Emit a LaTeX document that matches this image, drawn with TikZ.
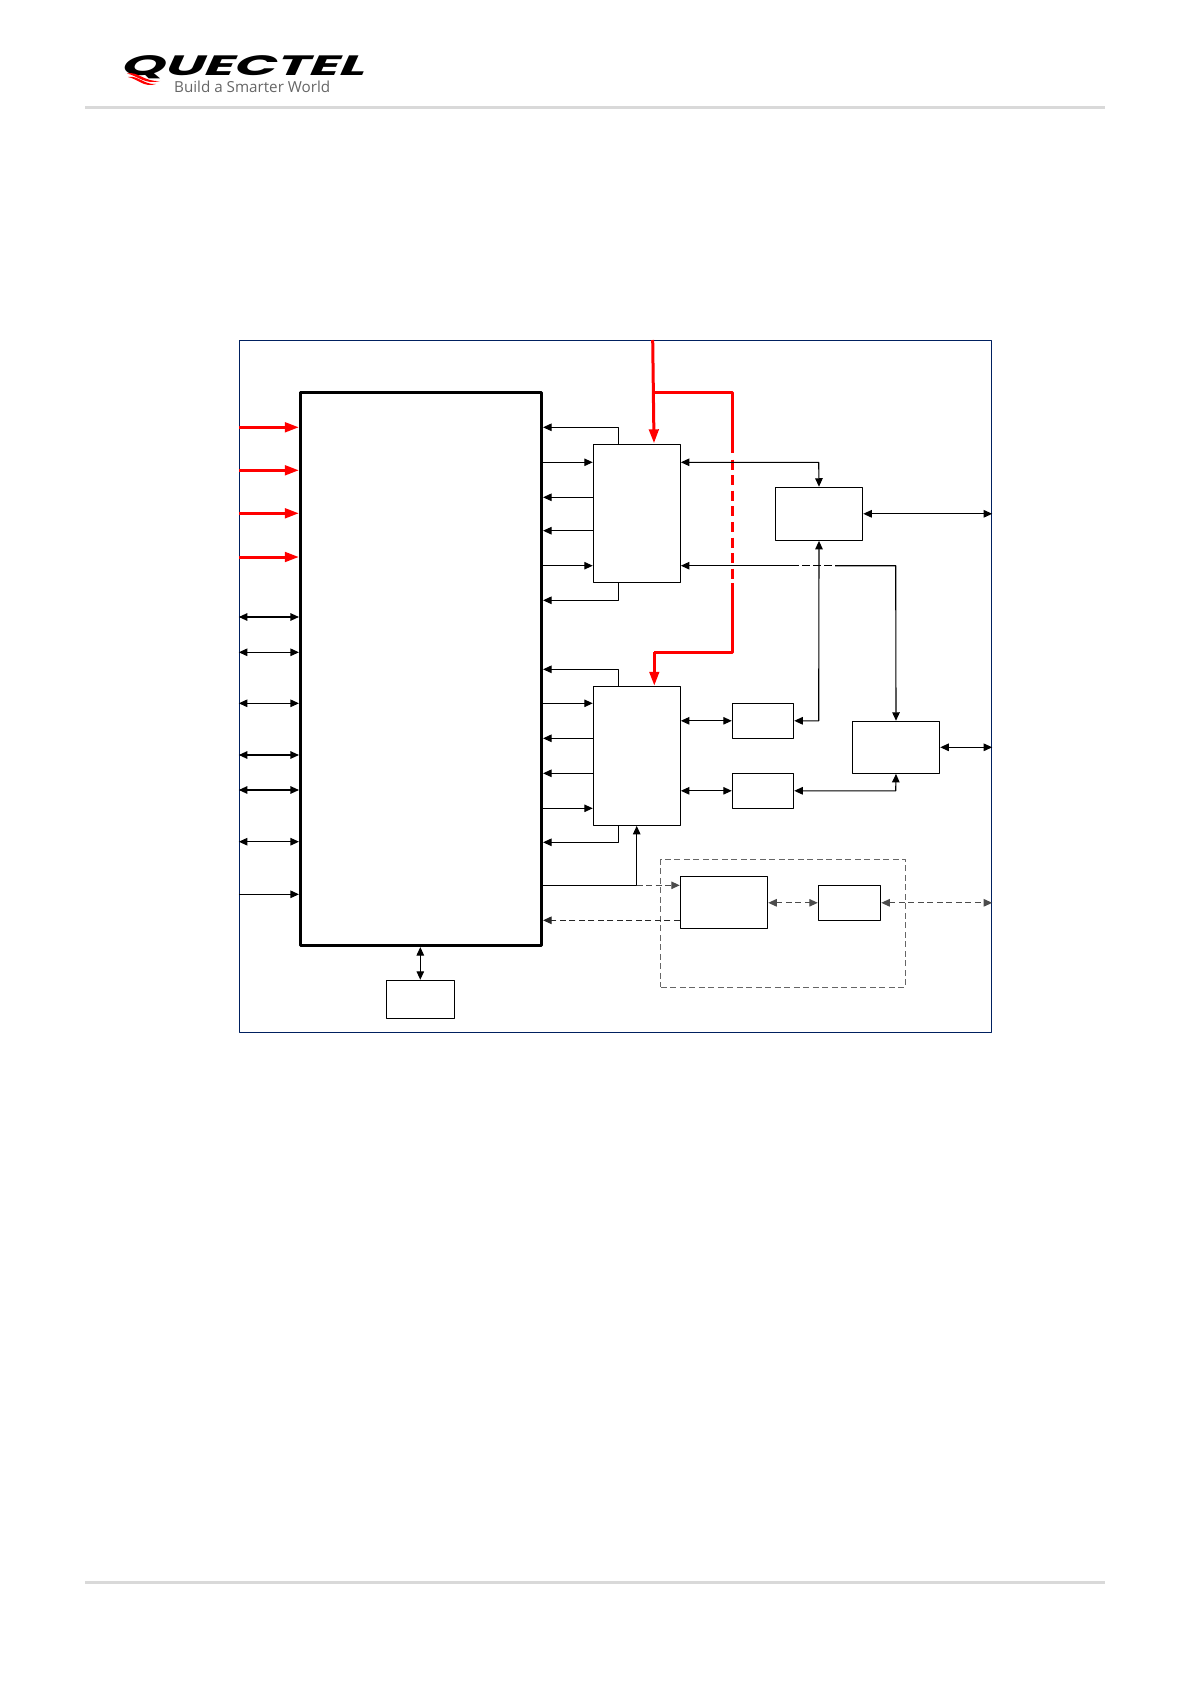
\documentclass[tikz,border=0pt]{standalone}
\usepackage{fontspec}
\usetikzlibrary{arrows.meta}
\newfontfamily\logofont[FakeSlant=.45,FakeStretch=1.98]{Poppins}
\newfontfamily\tagfont{Open Sans}
\definecolor{framenavy}{HTML}{002060}
\definecolor{rulegray}{HTML}{D9D9D9}
\tikzset{
  blk/.style={draw, line width=1.1pt, inner sep=0pt},
  link/.style={line width=1.1pt},
  one/.style={link, -{Stealth[length=8.5pt,width=7.5pt,inset=0pt]}},
  both/.style={link, {Stealth[length=8.5pt,width=7.5pt,inset=0pt]}-{Stealth[length=8.5pt,width=7.5pt,inset=0pt]}},
  dashlink/.style={dash pattern=on 6pt off 3.5pt},
  power/.style={red, line width=3pt, line join=round},
  poweratip/.style={power, -{Stealth[length=14pt,width=9.5pt,inset=0pt]}},
}
\begin{document}
\begin{tikzpicture}[x=1pt, y=-1pt, line join = round]
\useasboundingbox (0,0) rectangle (1192,1685);
%Header and footer
\draw[rulegray, line width=3pt] (85,107.3)--(1105,107.3);
\draw[rulegray, line width=3pt] (85,1582.3)--(1105,1582.3);
\node[anchor=base west, inner sep=0pt] (logo) at (119,75.5) {\logofont\bfseries\fontsize{28}{28}\selectfont QUECTEL};
\node[anchor=base west, inner sep=0pt, text=black!60] (slogan) at (174,93) {\tagfont\fontsize{15.2}{15.2}\selectfont Build a Smarter World};
\fill[red] (127,73.5) .. controls (138,71) and (144,82) .. (160,81) .. controls (145,85) and (138,76) .. (127,73.5);
\fill[red] (128,77) .. controls (138,75) and (144,85) .. (156,84) .. controls (144,88) and (138,79) .. (128,77);
%Boxes
\node[draw=framenavy, line width=1pt, inner sep=0pt, minimum width=752.4pt, minimum height=692pt] (frame) at (615.5,686.3) {};
\node[draw, line width=2.7pt, inner sep=0pt, minimum width=241.4pt, minimum height=553.4pt] (main) at (421,669) {};
\node[blk, minimum width=87pt, minimum height=138pt] (boxA) at (636.8,513.3) {};
\node[blk, minimum width=87pt, minimum height=139pt] (boxB) at (636.8,755.8) {};
\node[blk, minimum width=87.4pt, minimum height=53pt] (boxC) at (819,513.8) {};
\node[blk, minimum width=61.4pt, minimum height=35pt] (boxD) at (763,720.8) {};
\node[blk, minimum width=61.4pt, minimum height=35pt] (boxE) at (763,790.8) {};
\node[blk, minimum width=87.4pt, minimum height=52pt] (boxF) at (896,747.3) {};
\node[blk, minimum width=87.4pt, minimum height=52pt] (boxG) at (724,902.3) {};
\node[blk, minimum width=62.4pt, minimum height=35pt] (boxH) at (849.5,902.8) {};
\node[blk, minimum width=68pt, minimum height=38pt] (boxMem) at (420.3,999.3) {};
\node[draw=black!60, line width=1pt, dashlink, inner sep=0pt, minimum width=244.7pt, minimum height=128.3pt] (option) at (783.3,923.2) {};
%Left side of the main box
\foreach \y in {427.3,470.3,513.3,557}
  \draw[poweratip] (frame.west |- 0,\y)--(main.west |- 0,\y);
\foreach \y in {617,652.3,703.3,755,790,841.7}
  \draw[both] (frame.west |- 0,\y)--(main.west |- 0,\y);
\draw[one] (frame.west |- 0,894.3)--(main.west |- 0,894.3);
\draw[both] (main.south -| boxMem.north)--(boxMem.north);
%Right side of the main box
\foreach \b/\ya/\yb/\yc/\yd/\ye/\yf in {boxA/427.3/462.3/497.3/530.7/565.7/600.3, boxB/669.3/703.3/738.3/773.3/808.3/842.3}{
  \draw[one] (\b.north -| 618.7,0)--(618.7,\ya)--(main.east |- 0,\ya);
  \draw[one] (main.east |- 0,\yb)--(\b.west |- 0,\yb);
  \draw[one] (\b.west |- 0,\yc)--(main.east |- 0,\yc);
  \draw[one] (\b.west |- 0,\yd)--(main.east |- 0,\yd);
  \draw[one] (main.east |- 0,\ye)--(\b.west |- 0,\ye);
  \draw[one] (\b.south -| 618.7,0)--(618.7,\yf)--(main.east |- 0,\yf);
}
%Power rail
\draw[poweratip] (652.7,340)--(654,444.3-1);
\coordinate (railTop) at (653.5,392.3);
\coordinate (railEast) at (732.3,392.3);
\coordinate (railLow) at (732.3,652.3);
\draw[power] (railTop)--(railEast)--(732.3,453);
\draw[power, dash pattern=on 10pt off 5.6pt] (732.3,459.5)--(732.3,583);
\draw[power] (732.3,583)--(railLow)--(654.3,652.3);
\draw[poweratip] (654.3,652.3)--(boxB.north -| 654.3,0);
%Links between the boxes
\draw[both] (boxA.east |- 0,462.3)--(818.7,462.3)--(boxC.north);
\draw[both] (boxC.east)--(frame.east |- boxC.east);
\draw[both] (boxC.south)--(818.7,720.8)--(boxD.east);
\draw[both] (boxB.east |- boxD.west)--(boxD.west);
\draw[both] (boxB.east |- boxE.west)--(boxE.west);
\draw[both] (boxE.east)--(895.7,790.8)--(boxF.south);
\draw[both] (boxF.east)--(frame.east |- boxF.east);
\draw[one] (799,565.7)--(boxA.east |- 0,565.7);
\draw[link] (802,565.7)--(809.5,565.7) (813,565.7)--(821,565.7) (824,565.7)--(832,565.7);
\draw[one] (835,565.7)--(895.7,565.7)--(boxF.north);
%Optional part
\draw[one] (main.east |- 0,885.3)--(636.7,885.3)--(boxB.south -| 636.7,0);
\draw[one, black!70, dashlink] (636.7,885.3)--(boxG.west |- 0,885.3);
\draw[one, black!85, dashlink] (boxG.west |- 0,920.3)--(main.east |- 0,920.3);
\draw[both, black!70, dashlink] (boxG.east |- boxH.west)--(boxH.west);
\draw[both, black!70, dashlink] (boxH.east)--(frame.east |- boxH.east);
\end{tikzpicture}
\end{document}
